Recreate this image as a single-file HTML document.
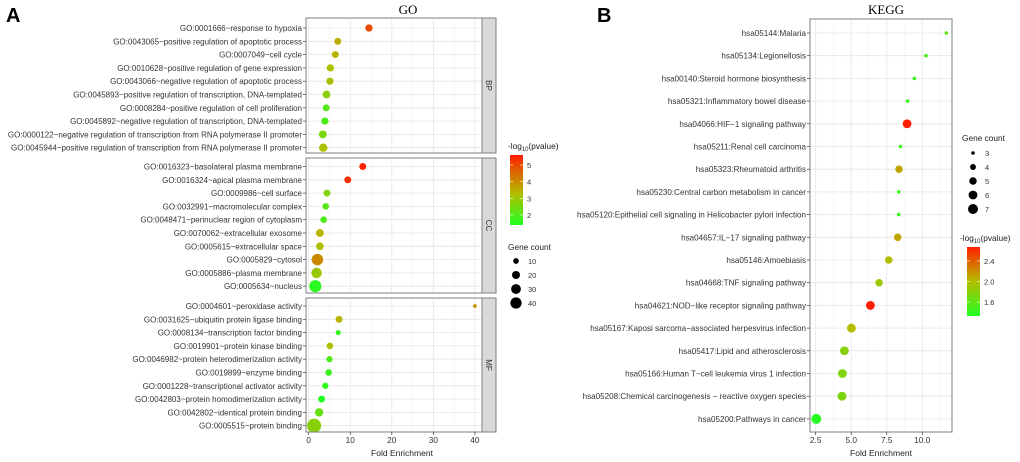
<!DOCTYPE html>
<html><head><meta charset="utf-8">
<style>
body{margin:0;background:#fff;}
svg{display:block;font-family:"Liberation Sans",sans-serif;}
</style></head>
<body>
<svg id="s" width="1020" height="462" viewBox="0 0 1020 462">
<defs>
<linearGradient id="gA" x1="0" y1="1" x2="0" y2="0">
<stop offset="0" stop-color="#22ff22"/><stop offset="0.45" stop-color="#b3bd00"/><stop offset="1" stop-color="#ff1e00"/></linearGradient>
<linearGradient id="gB" x1="0" y1="1" x2="0" y2="0">
<stop offset="0" stop-color="#22ff22"/><stop offset="0.5" stop-color="#b3bd00"/><stop offset="1" stop-color="#ff1e00"/></linearGradient>
</defs>
<text x="6" y="22" font-size="20" font-weight="bold">A</text>
<text x="597" y="22" font-size="20" font-weight="bold">B</text>
<text x="408" y="14" font-size="13" text-anchor="middle" font-family="Liberation Serif,serif">GO</text>
<text x="886" y="14" font-size="13" text-anchor="middle" font-family="Liberation Serif,serif">KEGG</text>
</svg>
<script>
// ---- GO data ----
const goBPTerms=["GO:0001666~response to hypoxia","GO:0043065~positive regulation of apoptotic process","GO:0007049~cell cycle","GO:0010628~positive regulation of gene expression","GO:0043066~negative regulation of apoptotic process","GO:0045893~positive regulation of transcription, DNA-templated","GO:0008284~positive regulation of cell proliferation","GO:0045892~negative regulation of transcription, DNA-templated","GO:0000122~negative regulation of transcription from RNA polymerase II promoter","GO:0045944~positive regulation of transcription from RNA polymerase II promoter"];
const goBPFold=[14.5,7.0,6.4,5.2,5.1,4.3,4.2,3.9,3.4,3.5];
const goBPCount=[12,11,11,12,12,14,11,12,14,16];
const goBPLogP=[4.9,3.3,3.2,3.0,3.0,2.6,2.0,1.9,2.4,3.0];
const goCCTerms=["GO:0016323~basolateral plasma membrane","GO:0016324~apical plasma membrane","GO:0009986~cell surface","GO:0032991~macromolecular complex","GO:0048471~perinuclear region of cytoplasm","GO:0070062~extracellular exosome","GO:0005615~extracellular space","GO:0005829~cytosol","GO:0005886~plasma membrane","GO:0005634~nucleus"];
const goCCFold=[13.0,9.4,4.4,4.1,3.6,2.7,2.7,2.1,1.9,1.6];
const goCCCount=[11,11,11,10,10,14,13,30,25,33];
const goCCLogP=[5.5,5.3,2.5,2.0,1.9,3.2,3.0,3.9,2.8,1.5];
const goMFTerms=["GO:0004601~peroxidase activity","GO:0031625~ubiquitin protein ligase binding","GO:0008134~transcription factor binding","GO:0019901~protein kinase binding","GO:0046982~protein heterodimerization activity","GO:0019899~enzyme binding","GO:0001228~transcriptional activator activity","GO:0042803~protein homodimerization activity","GO:0042802~identical protein binding","GO:0005515~protein binding"];
const goMFFold=[40.0,7.3,7.1,5.1,5.0,4.8,4.0,3.1,2.5,1.3];
const goMFCount=[3,11,6,10,9,10,9,11,16,45];
const goMFLogP=[3.8,3.2,1.6,3.0,1.9,1.7,1.5,1.4,2.2,2.6];
const goXTicks=[0,10,20,30,40];
const goColorTicks=[2,3,4,5];
const goSizeTicks=[10,20,30,40];
// ---- KEGG data ----
const keggTerms=["hsa05144:Malaria","hsa05134:Legionellosis","hsa00140:Steroid hormone biosynthesis","hsa05321:Inflammatory bowel disease","hsa04066:HIF\u22121 signaling pathway","hsa05211:Renal cell carcinoma","hsa05323:Rheumatoid arthritis","hsa05230:Central carbon metabolism in cancer","hsa05120:Epithelial cell signaling in Helicobacter pylori infection","hsa04657:IL\u221217 signaling pathway","hsa05146:Amoebiasis","hsa04668:TNF signaling pathway","hsa04621:NOD\u2212like receptor signaling pathway","hsa05167:Kaposi sarcoma\u2212associated herpesvirus infection","hsa05417:Lipid and atherosclerosis","hsa05166:Human T\u2212cell leukemia virus 1 infection","hsa05208:Chemical carcinogenesis \u2212 reactive oxygen species","hsa05200:Pathways in cancer"];
const keggFold=[11.69,10.26,9.44,8.97,8.93,8.46,8.36,8.34,8.34,8.27,7.64,6.96,6.35,5.01,4.52,4.38,4.35,2.54];
const keggCount=[3,3,3,3,6,3,5,3,3,5,5,5,6,6,6,6,6,7];
const keggLogP=[1.6,1.5,1.45,1.45,2.7,1.45,2.1,1.45,1.45,2.1,2.0,1.9,2.7,2.0,1.8,1.75,1.75,1.35];
const keggXTicks=[2.5,5.0,7.5,10.0];
const keggColorTicks=[1.6,2.0,2.4];
const keggSizeTicks=[3,4,5,6,7];

const S=document.getElementById('s');const NS='http://www.w3.org/2000/svg';
function mk(tag,at,txt){const e=document.createElementNS(NS,tag);for(const k in at)e.setAttribute(k,at[k]);if(txt!=null)e.textContent=txt;S.appendChild(e);return e;}
function hx(c){return [parseInt(c.substr(1,2),16),parseInt(c.substr(3,2),16),parseInt(c.substr(5,2),16)];}
function lerp(a,b,t){const A=hx(a),B=hx(b);return 'rgb('+A.map((v,i)=>Math.round(v+(B[i]-v)*t)).join(',')+')';}
function colorOf(v,lo,hi,mid){let t=Math.max(0,Math.min(1,(v-lo)/(hi-lo)));return t<mid?lerp('#22ff22','#b3bd00',t/mid):lerp('#b3bd00','#ff1e00',(t-mid)/(1-mid));}

// GO panels
const gx=v=>308.7+v*4.155;
const goL=306,goR=482;
const panels=[
 {name:'bp',terms:goBPTerms,fold:goBPFold,count:goBPCount,lp:goBPLogP,top:18,bot:153,y0:28,strip:'BP'},
 {name:'cc',terms:goCCTerms,fold:goCCFold,count:goCCCount,lp:goCCLogP,top:158,bot:293,y0:166.5,strip:'CC'},
 {name:'mf',terms:goMFTerms,fold:goMFFold,count:goMFCount,lp:goMFLogP,top:298,bot:432,y0:306,strip:'MF'}];
const goR_=c=>Math.sqrt(c)*1.05;
panels.forEach(p=>{
 let bg=mk('rect',{x:goL,y:p.top,width:goR-goL,height:p.bot-p.top,fill:'#fff'});
 
 for(let v=5;v<=45;v+=10){if(gx(v)<goR)mk('line',{x1:gx(v),x2:gx(v),y1:p.top,y2:p.bot,stroke:'#f3f3f3','stroke-width':0.6});}
 goXTicks.forEach(v=>mk('line',{x1:gx(v),x2:gx(v),y1:p.top,y2:p.bot,stroke:'#e6e6e6','stroke-width':0.8}));
 p.terms.forEach((t,i)=>{const y=p.y0+i*13.3;
  mk('line',{x1:goL,x2:goR,y1:y,y2:y,stroke:'#e6e6e6','stroke-width':0.8});
  mk('line',{x1:goL-3,x2:goL,y1:y,y2:y,stroke:'#333','stroke-width':0.7});
  let tx=mk('text',{x:goL-4,y:y+3,'font-size':'8.0','text-anchor':'end',fill:'#333'},t);
  
 });
 p.terms.forEach((t,i)=>{const y=p.y0+i*13.3;
  let c=mk('circle',{cx:gx(p.fold[i]),cy:y,r:goR_(p.count[i]),fill:colorOf(p.lp[i],1.4,5.6,0.4)});
  
 });
 mk('rect',{x:goL,y:p.top,width:goR-goL,height:p.bot-p.top,fill:'none',stroke:'#7f7f7f','stroke-width':1});
 let st=mk('rect',{x:goR,y:p.top,width:14,height:p.bot-p.top,fill:'#d9d9d9',stroke:'#7f7f7f','stroke-width':1});
 
 const cy=(p.top+p.bot)/2;
 let sl=mk('text',{x:goR+7,y:cy,'font-size':'8','text-anchor':'middle',transform:'rotate(90 '+(goR+7)+' '+cy+')',dy:'3',fill:'#333'},p.strip);
 
});
goXTicks.forEach(v=>{mk('line',{x1:gx(v),x2:gx(v),y1:432,y2:435,stroke:'#333','stroke-width':0.7});
 let t=mk('text',{x:gx(v),y:443,'font-size':'8.3','text-anchor':'middle',fill:'#333'},String(v));
 });
let xa=mk('text',{x:402,y:456,'font-size':'8.5','text-anchor':'middle',fill:'#222'},'Fold Enrichment');

// GO legends
let lt=mk('text',{x:508,y:149,'font-size':'8.3',fill:'#222'});lt.innerHTML='-log<tspan font-size="6" dy="2">10</tspan><tspan dy="-2">(pvalue)</tspan>';

let cb=mk('rect',{x:510,y:155,width:13,height:70,fill:'url(#gA)'});

const gcy=v=>225-(v-1.4)/(5.6-1.4)*70;
goColorTicks.forEach(v=>{mk('line',{x1:510,x2:513,y1:gcy(v),y2:gcy(v),stroke:'#fff','stroke-width':0.6});mk('line',{x1:520,x2:523,y1:gcy(v),y2:gcy(v),stroke:'#fff','stroke-width':0.6});
 let t=mk('text',{x:527,y:gcy(v)+3,'font-size':'7.5',fill:'#333'},String(v));});
let st2=mk('text',{x:508,y:250,'font-size':'8.3',fill:'#222'},'Gene count');
goSizeTicks.forEach((v,i)=>{const y=261+i*14;
 let c=mk('circle',{cx:516,cy:y,r:goR_(v)*0.85,fill:'#000'});
 let t=mk('text',{x:528,y:y+3,'font-size':'7.5',fill:'#333'},String(v));});

// KEGG
const kx=v=>815.7+(v-2.5)*14.21;
const kL=810,kR=952,kT=19,kB=432,ky=i=>33+i*22.7;
let kbg=mk('rect',{x:kL,y:kT,width:kR-kL,height:kB-kT,fill:'#fff'});
[3.75,6.25,8.75,11.25].forEach(v=>mk('line',{x1:kx(v),x2:kx(v),y1:kT,y2:kB,stroke:'#f3f3f3','stroke-width':0.6}));
keggXTicks.forEach(v=>mk('line',{x1:kx(v),x2:kx(v),y1:kT,y2:kB,stroke:'#e6e6e6','stroke-width':0.8}));
keggTerms.forEach((t,i)=>{mk('line',{x1:kL,x2:kR,y1:ky(i),y2:ky(i),stroke:'#e6e6e6','stroke-width':0.8});
 mk('line',{x1:kL-3,x2:kL,y1:ky(i),y2:ky(i),stroke:'#333','stroke-width':0.7});
 let tx=mk('text',{x:kL-4,y:ky(i)+3,'font-size':'8.1','text-anchor':'end',fill:'#333'},t);
 });
const kr=c=>Math.sqrt(3.2+5.45*(c-3));
keggTerms.forEach((t,i)=>{let c=mk('circle',{cx:kx(keggFold[i]),cy:ky(i),r:kr(keggCount[i]),fill:colorOf(keggLogP[i],1.33,2.67,0.5)});
 });
mk('rect',{x:kL,y:kT,width:kR-kL,height:kB-kT,fill:'none',stroke:'#7f7f7f','stroke-width':1});
keggXTicks.forEach(v=>{mk('line',{x1:kx(v),x2:kx(v),y1:kB,y2:kB+3,stroke:'#333','stroke-width':0.7});
 let t=mk('text',{x:kx(v),y:443,'font-size':'8.3','text-anchor':'middle',fill:'#333'},v.toFixed(1));
 });
let kxa=mk('text',{x:881,y:456,'font-size':'8.5','text-anchor':'middle',fill:'#222'},'Fold Enrichment');

let kst=mk('text',{x:962,y:141,'font-size':'8.3',fill:'#222'},'Gene count');
keggSizeTicks.forEach((v,i)=>{const y=153+i*14;
 let c=mk('circle',{cx:973,cy:y,r:kr(v),fill:'#000'});
 let t=mk('text',{x:985,y:y+3,'font-size':'7.5',fill:'#333'},String(v));});
let klt=mk('text',{x:960,y:241,'font-size':'8.3',fill:'#222'});klt.innerHTML='-log<tspan font-size="6" dy="2">10</tspan><tspan dy="-2">(pvalue)</tspan>';

let kcb=mk('rect',{x:967,y:247,width:13,height:69,fill:'url(#gB)'});
const kcy=v=>316-(v-1.33)/(2.67-1.33)*69;
keggColorTicks.forEach(v=>{mk('line',{x1:967,x2:970,y1:kcy(v),y2:kcy(v),stroke:'#fff','stroke-width':0.6});mk('line',{x1:977,x2:980,y1:kcy(v),y2:kcy(v),stroke:'#fff','stroke-width':0.6});
 let t=mk('text',{x:984,y:kcy(v)+3,'font-size':'7.5',fill:'#333'},v.toFixed(1));});
</script>
</body></html>
